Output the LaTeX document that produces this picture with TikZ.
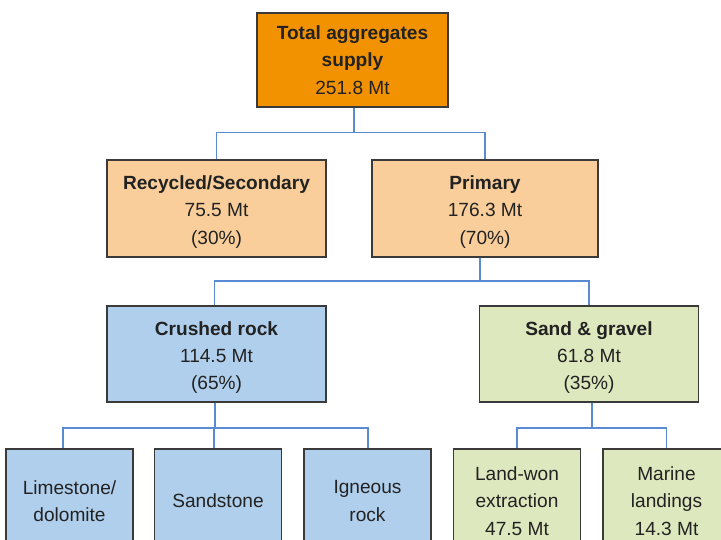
\documentclass[tikz,border=0pt]{standalone}
\usepackage{fontspec}
\setmainfont{Liberation Sans}
\definecolor{orangebox}{RGB}{243,146,0}
\definecolor{peachbox}{RGB}{249,206,155}
\definecolor{bluebox}{RGB}{176,207,236}
\definecolor{greenbox}{RGB}{221,232,190}
\definecolor{borderc}{RGB}{58,58,58}
\definecolor{connc}{RGB}{90,138,210}
\definecolor{txt}{RGB}{34,34,34}
\tikzset{
  boxbase/.style={draw=borderc, line width=1.3pt, inner sep=0pt},
  topbox/.style={boxbase, fill=orangebox, minimum width=191pt, minimum height=94pt},
  peach/.style={boxbase, fill=peachbox, minimum width=219pt, minimum height=97pt},
  peachwide/.style={boxbase, fill=peachbox, minimum width=226pt, minimum height=97pt},
  blue/.style={boxbase, fill=bluebox, minimum width=219pt, minimum height=96pt},
  green/.style={boxbase, fill=greenbox, minimum width=219pt, minimum height=96pt},
  smallblue/.style={boxbase, fill=bluebox, minimum width=127pt, minimum height=97pt},
  smallgreen/.style={boxbase, fill=greenbox, minimum width=127pt, minimum height=97pt},
  lbl/.style={align=center, inner sep=0pt, text=txt, font=\fontsize{19.1}{27.2}\selectfont},
  lbldown/.style={lbl, yshift=-3.5pt},
  conn/.style={draw=connc, line width=1.4pt}
}
\begin{document}
\begin{tikzpicture}[x=1pt,y=-1pt]
\useasboundingbox (0,0) rectangle (721,540);
\clip (0,0) rectangle (721,540);
\coordinate (b1) at (354,132.5);
\coordinate (b2) at (480,281);
\coordinate (b3) at (215,428);
\coordinate (b4) at (592,428);

\node[topbox] (top) at (352.5,60) {};
\node[peach] (rec) at (216.5,208.5) {};
\node[peachwide] (prim) at (485,208.5) {};
\node[blue] (crush) at (216.5,354) {};
\node[green] (sand) at (589,354) {};
\node[smallblue] (lime) at (69.5,497.5) {};
\node[smallblue] (sandst) at (218,497.5) {};
\node[smallblue] (ign) at (367.5,497.5) {};
\node[smallgreen] (land) at (517,497.5) {};
\node[smallgreen] (marine) at (666.5,497.5) {};

\node[lbl] (topt) at (top.center) {\textbf{Total aggregates}\\\textbf{supply}\\251.8 Mt};
\node[lbldown] (rect) at (rec.center) {\textbf{Recycled/Secondary}\\75.5 Mt\\(30\%)};
\node[lbldown] (primt) at (prim.center) {\textbf{Primary}\\176.3 Mt\\(70\%)};
\node[lbldown] (crusht) at (crush.center) {\textbf{Crushed rock}\\114.5 Mt\\(65\%)};
\node[lbldown] (sandt) at (sand.center) {\textbf{Sand \& gravel}\\61.8 Mt\\(35\%)};
\node[lbldown] (limet) at (lime.center) {Limestone/\\dolomite};
\node[lbldown] (sandstt) at (sandst.center) {Sandstone};
\node[lbldown] (ignt) at (ign.center) {Igneous\\rock};
\node[lbldown] (landt) at (land.center) {Land-won\\extraction\\47.5 Mt};
\node[lbldown] (marinet) at (marine.center) {Marine\\landings\\14.3 Mt};

\draw[conn] (top.south -| b1) -- (b1);
\draw[conn] (rec.north) |- (b1) -| (prim.north);
\draw[conn] (prim.south -| b2) -- (b2);
\draw[conn] ([xshift=-2pt]crush.north) |- (b2) -| (sand.north);
\draw[conn] (crush.south -| b3) -- (b3);
\draw[conn] ([xshift=-6.5pt]lime.north) |- (b3) -| ([xshift=0.5pt]ign.north);
\draw[conn] ([xshift=-4pt]sandst.north) -- ([xshift=-4pt]sandst.north |- b3);
\draw[conn] (sand.south -| b4) -- (b4);
\draw[conn] (land.north) |- (b4) -| (marine.north);
\end{tikzpicture}
\end{document}
